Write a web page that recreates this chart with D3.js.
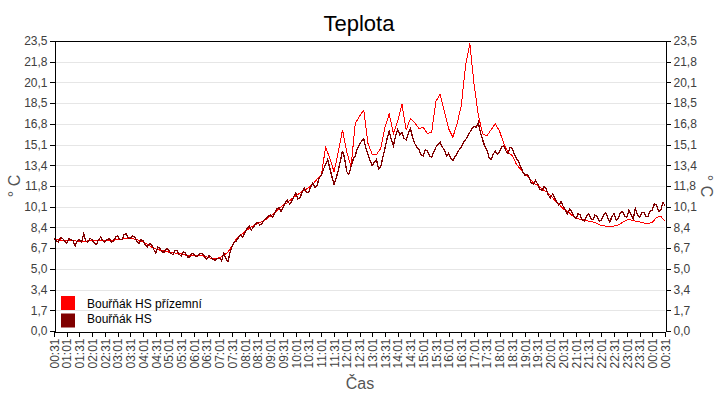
<!DOCTYPE html>
<html lang="cs">
	<head>
		<meta charset="utf-8">
		<title>Teplota</title>
		<script src="https://d3js.org/d3.v7.min.js"></script>
		<style type="text/css">
			body { margin: 0; background: #fff; }
			text { font-family: "Liberation Sans", Arial, sans-serif; }
			.axis path, .axis line { stroke: #000; shape-rendering: crispEdges; }
			.axis text { fill: #404040; font-size: 12px; }
			.series { shape-rendering: crispEdges; }
		</style>
	</head>
	<body>
		<script type="text/javascript">

			//Series names
			var seriesNames = ["Bouřňák HS přízemní", "Bouřňák HS"];

			//Ground sensor, every 10 minutes from 00:31
			var groundStep = 10;
			var groundTemp = [
				7.45, 7.4, 7.35, 7.35, 7.3, 7.3, 7.25, 7.25, 7.3, 7.3,
				7.35, 7.35, 7.3, 7.3, 7.35, 7.4, 7.45, 7.5, 7.55, 7.45,
				7.35, 7.2, 7.05, 6.8, 6.65, 6.55, 6.5, 6.4, 6.35, 6.3,
				6.25, 6.15, 6.1, 6.1, 6.1, 6.1, 6.0, 5.9, 5.85, 5.95,
				6.1, 6.4, 6.9, 7.5, 7.75, 8.05, 8.3, 8.55, 8.7, 8.85,
				9.05, 9.3, 9.6, 9.9, 10.2, 10.4, 10.7, 10.95, 11.2, 11.4,
				11.6, 11.9, 12.3, 12.6, 14.9, 14.0, 12.9, 14.5, 16.3, 14.5,
				13.3, 16.8, 17.4, 17.9, 15.2, 14.3, 14.3, 14.8, 16.5, 17.6,
				16.0, 17.0, 18.4, 16.3, 17.2, 16.9, 16.4, 16.5, 16.0, 16.1,
				18.6, 19.2, 17.8, 16.4, 15.7, 16.8, 18.3, 21.5, 23.3, 20.0,
				17.5, 16.0, 15.8, 16.3, 16.8, 16.2, 15.2, 14.5, 14.2, 13.5,
				13.1, 12.7, 12.4, 12.0, 11.8, 11.5, 11.3, 11.0, 10.6, 10.3,
				9.9, 9.7, 9.4, 9.15, 9.05, 9.0, 8.9, 8.85, 8.7, 8.55,
				8.5, 8.5, 8.5, 8.6, 8.8, 9.0, 9.0, 8.9, 8.85, 8.75,
				8.7, 8.8, 9.2, 9.3, 8.9
			];

			//Station sensor, every 5 minutes from 00:31
			var stationStep = 5;
			var stationTemp = [
				7.5, 7.3, 7.2, 7.6, 7.5, 7.3, 7.1, 7.5, 7.4, 7.3, 6.9, 7.3, 7.4, 7.2, 7.9, 7.3, 7.2, 7.5, 7.4, 7.1,
				7.0, 7.4, 7.6, 7.3, 7.2, 7.4, 7.5, 7.2, 7.3, 7.6, 7.7, 7.4, 7.4, 7.8, 7.9, 7.5, 7.5, 7.7, 7.6, 7.3,
				7.1, 7.4, 7.3, 7.0, 6.8, 7.1, 7.0, 6.6, 6.3, 6.8, 6.7, 6.4, 6.4, 6.7, 6.6, 6.3, 6.2, 6.5, 6.5, 6.2,
				6.1, 6.4, 6.3, 6.0, 6.0, 6.3, 6.2, 6.0, 6.1, 6.3, 6.3, 6.0, 5.8, 6.1, 6.0, 5.8, 5.7, 5.9, 5.9, 5.7,
				6.3, 5.9, 5.6, 6.4, 6.9, 7.2, 7.3, 7.6, 7.8, 7.6, 8.0, 8.3, 8.5, 8.2, 8.4, 8.7, 8.8, 8.6, 8.7, 9.0,
				9.1, 9.3, 9.4, 9.2, 9.5, 9.9, 10.0, 9.7, 10.0, 10.4, 10.6, 10.3, 10.5, 10.9, 11.2, 10.7, 10.8, 11.3, 11.6, 11.2,
				11.2, 11.7, 12.0, 11.6, 11.8, 12.4, 12.6, 13.1, 13.5, 13.9, 13.2, 12.5, 11.9, 12.4, 13.0, 13.8, 14.6, 14.0, 12.9, 12.7,
				13.3, 13.9, 14.2, 14.8, 15.1, 15.4, 15.6, 14.8, 14.3, 13.8, 13.4, 13.7, 13.9, 13.1, 13.3, 14.1, 14.8, 15.6, 16.2, 15.5,
				15.0, 15.8, 16.3, 15.9, 16.1, 15.6, 15.5, 16.0, 16.4, 15.7, 15.2, 14.9, 14.7, 14.3, 14.2, 14.7, 14.6, 14.2, 14.1, 14.5,
				14.9, 15.1, 15.3, 14.9, 14.7, 14.2, 14.4, 14.0, 13.8, 14.1, 14.4, 14.7, 14.9, 15.3, 15.5, 15.8, 16.1, 16.4, 16.6, 16.5,
				16.9, 16.1, 15.5, 15.0, 14.7, 14.1, 13.9, 14.3, 14.6, 14.3, 14.5, 14.9, 15.0, 14.6, 14.4, 14.9, 14.8, 14.3, 14.0, 13.7,
				13.3, 12.9, 12.6, 12.7, 12.4, 12.0, 11.9, 12.2, 11.9, 11.5, 11.4, 11.7, 11.5, 11.0, 10.8, 11.1, 10.8, 10.4, 10.2, 10.5,
				10.1, 9.8, 9.5, 9.9, 9.7, 9.3, 9.1, 9.5, 9.4, 9.0, 8.9, 9.3, 9.5, 9.1, 9.0, 9.4, 9.3, 8.9, 9.0, 9.4,
				9.6, 9.2, 8.8, 9.3, 9.5, 9.0, 9.1, 9.6, 9.7, 9.3, 9.2, 9.8, 9.4, 9.1, 9.9, 9.4, 9.2, 9.6, 9.6, 9.3,
				9.3, 9.7, 9.8, 10.3, 10.2, 9.7, 9.8, 10.4, 10.2
			];

			//Time tick labels every 30 minutes
			var timeLabels = [
				"00:31", "01:01", "01:31", "02:01", "02:31", "03:01", "03:31", "04:01", "04:31", "05:01",
				"05:31", "06:01", "06:31", "07:01", "07:31", "08:01", "08:31", "09:01", "09:31", "10:01",
				"10:31", "11:01", "11:31", "12:01", "12:31", "13:01", "13:31", "14:01", "14:31", "15:01",
				"15:31", "16:01", "16:31", "17:01", "17:31", "18:01", "18:31", "19:01", "19:31", "20:01",
				"20:31", "21:01", "21:31", "22:01", "22:31", "23:01", "23:31", "00:01", "00:31"
			];

			//Temperature tick labels
			var tempLabels = ["0,0", "1,7", "3,4", "5,0", "6,7", "8,4", "10,1", "11,8", "13,4", "15,1", "16,8", "18,5", "20,1", "21,8", "23,5"];
			var tempMax = 23.5;

			var colors = ["#ff0000", "#800000"];

			//Width and height
			var w = 720;
			var h = 400;
			var plotLeft = 54, plotRight = 665, plotTop = 41, plotBottom = 331;

			var xScale = d3.scaleLinear()
					.domain([0, (timeLabels.length - 1) * 30])
					.range([plotLeft, plotRight]);

			var yScale = d3.scaleLinear()
					.domain([0, tempMax])
					.range([plotBottom, plotTop]);

			var tempTicks = tempLabels.map(function(d, i) { return i * tempMax / (tempLabels.length - 1); });
			var timeTicks = timeLabels.map(function(d, i) { return i * 30; });

			//Create SVG element
			var svg = d3.select("body")
						.append("svg")
						.attr("width", w)
						.attr("height", h);

			//Grid lines
			svg.append("g")
				.selectAll("line")
				.data(tempTicks.slice(1, -1))
				.enter()
				.append("line")
				.attr("x1", plotLeft)
				.attr("x2", plotRight)
				.attr("y1", function(d) { return Math.round(yScale(d)) + 0.5; })
				.attr("y2", function(d) { return Math.round(yScale(d)) + 0.5; })
				.attr("stroke", "#e6e6e6");

			//Lines
			function makeLine(step) {
				return d3.line()
					.x(function(d, i) { return xScale(i * step); })
					.y(function(d) { return yScale(d); });
			}

			svg.append("path")
				.datum(groundTemp)
				.attr("class", "series")
				.attr("fill", "none")
				.attr("stroke", colors[0])
				.attr("stroke-width", 1)
				.attr("d", makeLine(groundStep));

			svg.append("path")
				.datum(stationTemp)
				.attr("class", "series")
				.attr("fill", "none")
				.attr("stroke", colors[1])
				.attr("stroke-width", 1.3)
				.attr("d", makeLine(stationStep));

			//Frame top
			svg.append("line")
				.attr("x1", plotLeft).attr("x2", plotRight + 1)
				.attr("y1", plotTop + 0.5).attr("y2", plotTop + 0.5)
				.attr("stroke", "#000");

			//Axes
			var yLeft = d3.axisLeft(yScale)
					.tickValues(tempTicks)
					.tickFormat(function(d, i) { return tempLabels[i]; })
					.tickSize(5)
					.tickSizeOuter(0);

			var yRight = d3.axisRight(yScale)
					.tickValues(tempTicks)
					.tickFormat(function(d, i) { return tempLabels[i]; })
					.tickSize(5)
					.tickSizeOuter(0);

			var xAxis = d3.axisBottom(xScale)
					.tickValues(timeTicks)
					.tickFormat(function(d, i) { return timeLabels[i]; })
					.tickSize(5)
					.tickSizeOuter(0);

			svg.append("g")
				.attr("class", "axis")
				.attr("transform", "translate(" + (plotLeft + 0.5) + ",0)")
				.call(yLeft)
				.selectAll("text")
				.attr("x", -7);

			svg.append("g")
				.attr("class", "axis")
				.attr("transform", "translate(" + (plotRight + 0.5) + ",0)")
				.call(yRight)
				.selectAll("text")
				.attr("x", 8);

			svg.append("g")
				.attr("class", "axis")
				.attr("transform", "translate(0," + (plotBottom + 0.5) + ")")
				.call(xAxis)
				.selectAll("text")
				.attr("transform", "rotate(-90)")
				.attr("text-anchor", "end")
				.attr("x", -7)
				.attr("y", 0)
				.attr("dy", "0.35em");

			//Title
			svg.append("text")
				.attr("x", 359)
				.attr("y", 31)
				.attr("text-anchor", "middle")
				.attr("font-size", "22px")
				.attr("fill", "#000")
				.text("Teplota");

			//Axis titles
			svg.append("text")
				.attr("x", 360)
				.attr("y", 389)
				.attr("text-anchor", "middle")
				.attr("font-size", "16px")
				.attr("fill", "#555")
				.text("Čas");

			svg.append("text")
				.attr("transform", "translate(20,186) rotate(-90)")
				.attr("text-anchor", "middle")
				.attr("font-size", "16px")
				.attr("fill", "#555")
				.text("° C");

			svg.append("text")
				.attr("transform", "translate(701,186) rotate(90)")
				.attr("text-anchor", "middle")
				.attr("font-size", "16px")
				.attr("fill", "#555")
				.text("° C");

			//Legend
			var legend = svg.append("g");

			legend.selectAll("rect")
				.data(seriesNames)
				.enter()
				.append("rect")
				.attr("x", 61)
				.attr("y", function(d, i) { return 296 + i * 17.5; })
				.attr("width", 14)
				.attr("height", 14)
				.attr("fill", function(d, i) { return colors[i]; });

			legend.selectAll("text")
				.data(seriesNames)
				.enter()
				.append("text")
				.attr("x", 87)
				.attr("y", function(d, i) { return 308 + i * 15; })
				.attr("font-size", "12px")
				.attr("fill", "#000")
				.text(function(d) { return d; });

		</script>
	</body>
</html>
